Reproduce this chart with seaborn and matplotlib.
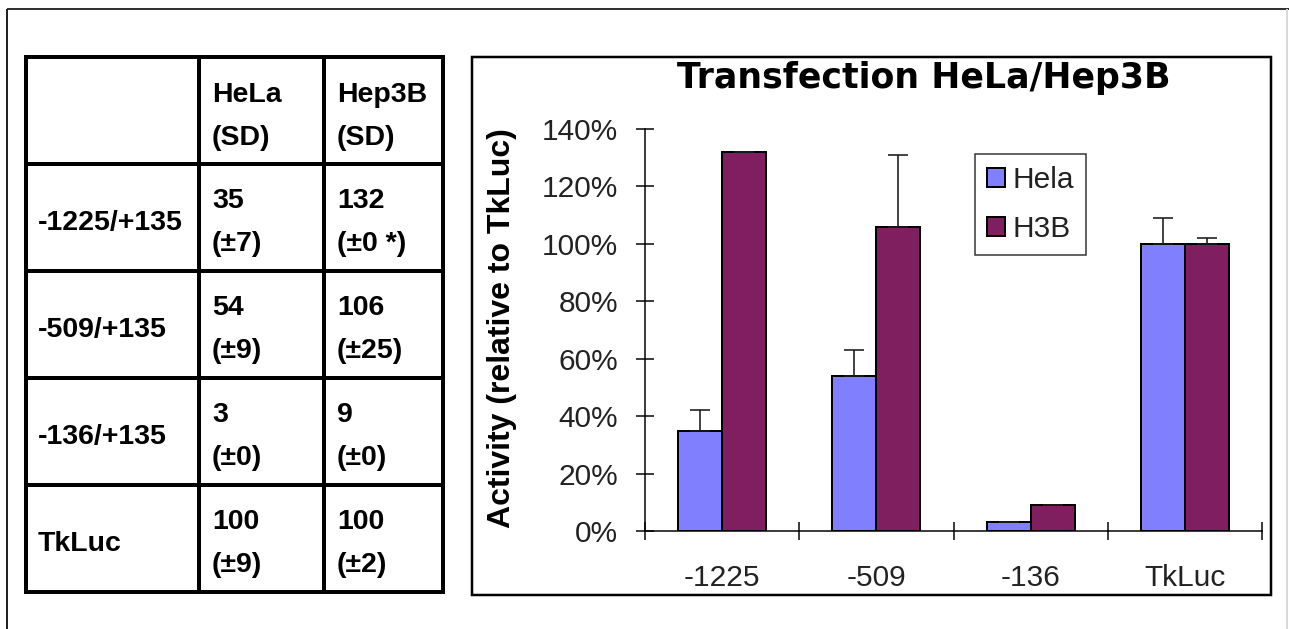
import numpy as np
import pandas as pd
import matplotlib
matplotlib.use("Agg")
import matplotlib.pyplot as plt
import seaborn as sns
from matplotlib.ticker import PercentFormatter, FixedLocator, NullFormatter, FixedFormatter
from matplotlib.patches import Rectangle

# ---------------- data ----------------
categories = ["-1225", "-509", "-136", "TkLuc"]
series_names = ["Hela", "H3B"]
hela_values = [35, 54, 3, 100]
h3b_values = [132, 106, 9, 100]
hela_sd = [7, 9, 0, 9]
h3b_sd = [0, 25, 0, 2]
y_ticks = [0, 20, 40, 60, 80, 100, 120, 140]
chart_title = "Transfection HeLa/Hep3B"
y_label = "Activity (relative to TkLuc)"

table_row_labels = ["-1225/+135", "-509/+135", "-136/+135", "TkLuc"]
table_col_headers = [("HeLa", "(SD)"), ("Hep3B", "(SD)")]
table_hela = [("35", "(±7)"), ("54", "(±9)"), ("3", "(±0)"), ("100", "(±9)")]
table_hep3b = [("132", "(±0 *)"), ("106", "(±25)"), ("9", "(±0)"), ("100", "(±2)")]

# ---------------- setup ----------------
W, H = 1289, 629
DPI = 100
PX = 72 / DPI  # points per pixel

sns.set_style("white")
plt.rcParams["font.family"] = ["Liberation Sans", "DejaVu Sans"]

fig = plt.figure(figsize=(W / DPI, H / DPI), dpi=DPI)
fig.patch.set_facecolor("white")

bg = fig.add_axes([0, 0, 1, 1], zorder=0)
bg.set_xlim(0, W)
bg.set_ylim(H, 0)
bg.axis("off")

# outer frame
bg.plot([7, W], [9, 9], color="#333333", lw=2 * PX, solid_capstyle="butt")
bg.plot([7, 7], [9, H], color="#222222", lw=2 * PX, solid_capstyle="butt")
bg.plot([1287, 1287], [9, H], color="#d9d9d9", lw=2 * PX, solid_capstyle="butt")

# table grid
col_x = [26, 199, 324, 443]
row_y = [57, 164, 271, 378, 485, 592]
for x in col_x:
    bg.plot([x, x], [row_y[0], row_y[-1]], color="black", lw=4 * PX, solid_capstyle="projecting")
for y in row_y:
    bg.plot([col_x[0], col_x[-1]], [y, y], color="black", lw=4 * PX, solid_capstyle="projecting")

tfont = dict(fontsize=20.5, fontweight="bold", color="black", va="baseline", ha="left")
# headers
for j, (l1, l2) in enumerate(table_col_headers):
    bg.text(col_x[j + 1] + 13, row_y[0] + 45, l1, **tfont)
    bg.text(col_x[j + 1] + 13, row_y[0] + 88, l2, **tfont)
# rows
for i, lab in enumerate(table_row_labels):
    top = row_y[i + 1]
    bg.text(col_x[0] + 12, top + 66, lab, **tfont)
    for j, col in enumerate([table_hela, table_hep3b]):
        bg.text(col_x[j + 1] + 13, top + 44, col[i][0], **tfont)
        bg.text(col_x[j + 1] + 13, top + 87, col[i][1], **tfont)

# chart border
bg.add_patch(Rectangle((472, 57), 1271 - 472, 595 - 57, fill=False,
                       edgecolor="black", lw=2.5 * PX))

# ---------------- chart ----------------
ax = fig.add_axes([645 / W, 1 - 531 / H, (1262 - 645) / W, (531 - 129) / H], zorder=2)
ax.patch.set_alpha(0)

df = pd.DataFrame({
    "category": categories * 2,
    "series": [series_names[0]] * len(categories) + [series_names[1]] * len(categories),
    "value": hela_values + h3b_values,
})
palette = {series_names[0]: "#8080FF", series_names[1]: "#801F5F"}
sns.barplot(data=df, x="category", y="value", hue="series", order=categories,
            hue_order=series_names, palette=palette, width=0.57, errorbar=None,
            edgecolor="black", linewidth=2 * PX, saturation=1, ax=ax)

for cont, vals, sds in zip(ax.containers, [hela_values, h3b_values], [hela_sd, h3b_sd]):
    xs = [p.get_x() + p.get_width() / 2 for p in cont.patches]
    ax.errorbar(xs, vals, yerr=[np.zeros(len(vals)), sds], fmt="none",
                ecolor="#1a1a1a", elinewidth=1.6 * PX, capsize=7.5,
                capthick=1.6 * PX, zorder=3)

ax.set_xlim(-0.5, len(categories) - 0.5)
ax.set_ylim(0, 140)
ax.set_yticks(y_ticks)
ax.yaxis.set_major_formatter(PercentFormatter(xmax=100, decimals=0))
ax.xaxis.set_major_locator(FixedLocator(np.arange(-0.5, len(categories), 1.0)))
ax.xaxis.set_major_formatter(NullFormatter())
ax.xaxis.set_minor_locator(FixedLocator(np.arange(len(categories))))
ax.xaxis.set_minor_formatter(FixedFormatter(categories))
ax.set_xlabel("")
ax.set_ylabel("")

ax.tick_params(axis="y", which="major", direction="inout", length=13, width=1.5 * PX,
               pad=13, labelsize=21.5, color="black", labelcolor="#222222", left=True)
ax.tick_params(axis="x", which="major", direction="inout", length=13, width=1.5 * PX,
               color="black", bottom=True)
ax.tick_params(axis="x", which="minor", length=0, pad=24, labelsize=21.5, labelcolor="#222222")

for s in ["top", "right"]:
    ax.spines[s].set_visible(False)
for s in ["left", "bottom"]:
    ax.spines[s].set_color("black")
    ax.spines[s].set_linewidth(1.5 * PX)

handles, labels = ax.get_legend_handles_labels()
leg = ax.legend(handles, labels, loc="upper left", bbox_to_anchor=(975 / W, 1 - 154 / H),
                bbox_transform=fig.transFigure, frameon=True, fancybox=False,
                edgecolor="black", fontsize=21.5, handlelength=0.6, handleheight=0.6,
                handletextpad=0.25, borderpad=0.4, labelspacing=0.7, borderaxespad=0)
leg.get_frame().set_linewidth(1.5 * PX)
for t in leg.get_texts():
    t.set_color("#222222")

fig.text(923.5 / W, 1 - 88 / H, chart_title, ha="center", va="baseline",
         fontsize=25, fontweight="bold", color="black", family=["DejaVu Sans"])
fig.text(502 / W, 1 - 328 / H, y_label, ha="center", va="center", rotation=90,
         fontsize=23, fontweight="bold", color="black")

fig.savefig("out.png", dpi=DPI, facecolor="white")
